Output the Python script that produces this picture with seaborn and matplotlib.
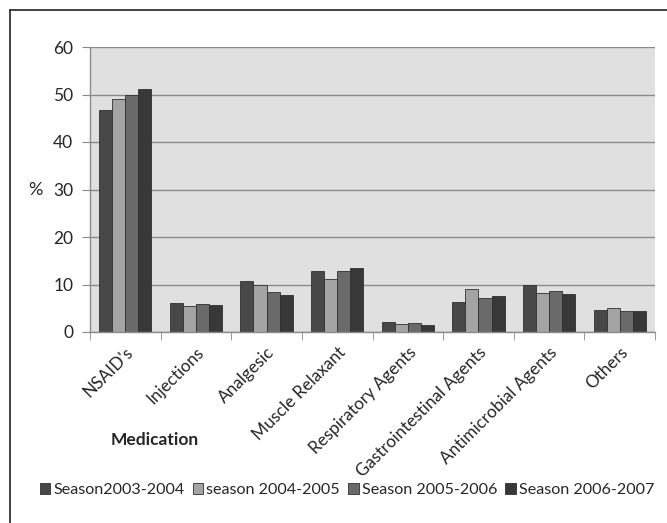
import pandas as pd
import matplotlib
matplotlib.use('Agg')
import matplotlib.pyplot as plt
import seaborn as sns
from matplotlib.lines import Line2D
from matplotlib.ticker import FixedLocator

medications = ["NSAID's", "Injections", "Analgesic", "Muscle Relaxant",
               "Respiratory Agents", "Gastrointestinal Agents",
               "Antimicrobial Agents", "Others"]
seasons = ["Season2003-2004", "season 2004-2005", "Season 2005-2006", "Season 2006-2007"]

s2003 = [46.7, 6.2, 10.7, 12.8, 2.1, 6.3, 9.9, 4.65]
s2004 = [49.0, 5.5, 9.8, 11.1, 1.6, 9.0, 8.2, 5.0]
s2005 = [49.8, 6.0, 8.5, 12.8, 2.0, 7.25, 8.7, 4.4]
s2006 = [51.2, 5.7, 7.7, 13.5, 1.5, 7.6, 7.9, 4.4]

colors = ["#484848", "#a4a4a4", "#6a6a6a", "#383838"]

rows = []
for season, vals in zip(seasons, [s2003, s2004, s2005, s2006]):
    for med, v in zip(medications, vals):
        rows.append({"Medication": med, "Season": season, "pct": v})
df = pd.DataFrame(rows)

sns.set_style("white")
plt.rcParams['font.family'] = ['Lato', 'DejaVu Sans']

fig = plt.figure(figsize=(6.67, 5.23), dpi=100)
ax = fig.add_axes([90/667, 1-332/523, 565/667, 285/523])
ax.set_facecolor("#e0e0e0")

sns.barplot(data=df, x="Medication", y="pct", hue="Season", order=medications,
            hue_order=seasons, palette=colors, width=0.74, gap=0,
            edgecolor="#303030", linewidth=0.6, saturation=1, ax=ax, legend=False)

ax.set_ylim(0, 60)
ax.set_xlim(-0.5, len(medications) - 0.5)
ax.set_yticks(range(0, 61, 10))
ax.yaxis.grid(True, color="#8a8a8a", linewidth=1)
ax.set_axisbelow(True)
for side in ["top", "right"]:
    ax.spines[side].set_visible(False)
for side in ["left", "bottom"]:
    ax.spines[side].set_color("#8a8a8a")
    ax.spines[side].set_linewidth(1)

ax.tick_params(axis="y", length=6, color="#8a8a8a", labelsize=12.5, pad=6, left=True)
ax.set_xticks(range(len(medications)))
ax.set_xticklabels(medications, rotation=45, ha="right", rotation_mode="anchor", fontsize=12.3)
ax.tick_params(axis="x", which="major", length=0, pad=9)
ax.xaxis.set_minor_locator(FixedLocator([i - 0.5 for i in range(len(medications) + 1)]))
ax.tick_params(axis="x", which="minor", length=6, color="#8a8a8a", bottom=True)

ax.set_xlabel("")
ax.set_ylabel("")
fig.text(35/667, 1-190/523, "%", ha="center", va="center", fontsize=13)
fig.text(155/667, 1-440/523, "Medication", ha="center", va="center",
         fontsize=12.5, fontweight="bold")

handles = [plt.Rectangle((0, 0), 1, 1, facecolor=c, edgecolor="#303030", linewidth=0.6)
           for c in colors]
fig.legend(handles, seasons, loc="center", bbox_to_anchor=(347/667, 1-490/523), ncol=4,
           frameon=False, fontsize=11.6, handlelength=0.65, handleheight=0.65,
           handletextpad=0.2, columnspacing=0.5)

# outer frame
fig.add_artist(Line2D([10/667, 10/667], [0, 1-10/523], color="#222222", linewidth=1.2,
                      transform=fig.transFigure))
fig.add_artist(Line2D([10/667, 1], [1-10/523, 1-10/523], color="#222222", linewidth=1.2,
                      transform=fig.transFigure))

fig.savefig("out.png", dpi=100)
